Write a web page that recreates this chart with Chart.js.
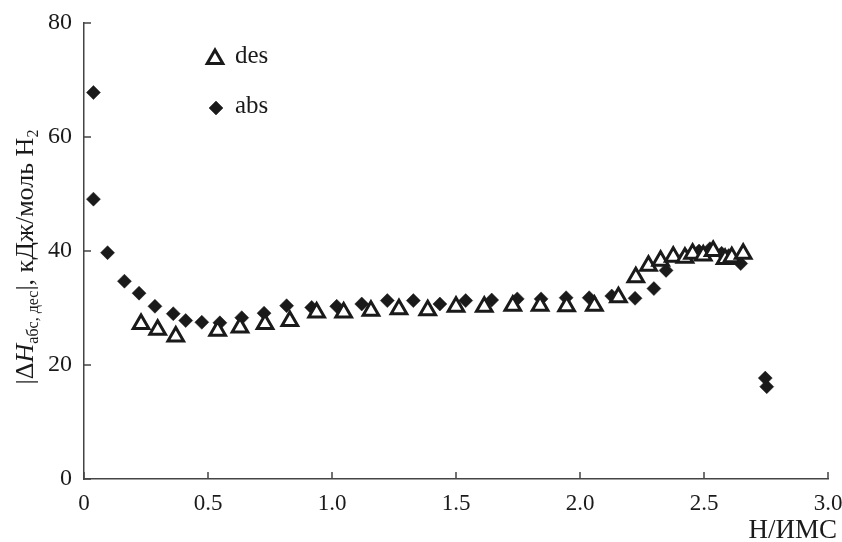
<!DOCTYPE html>
<html lang="ru">
<head>
<meta charset="UTF-8">
<title>chart</title>
<style>
    html, body { margin: 0; padding: 0; background: #fff; }
</style>
</head>
<body>
<canvas id="scatterChart" width="842" height="542"></canvas>

<script src="https://cdn.jsdelivr.net/npm/chart.js"></script>
<script>
// data
var desX = [0.23, 0.297, 0.37, 0.539, 0.629, 0.73, 0.83, 0.938, 1.047, 1.157, 1.27, 1.386, 1.5, 1.614, 1.729, 1.839, 1.946, 2.058, 2.155, 2.225, 2.276, 2.325, 2.376, 2.423, 2.454, 2.497, 2.537, 2.585, 2.612, 2.658];
var desY = [27.2, 26.2, 25.0, 26.0, 26.6, 27.2, 27.7, 29.2, 29.2, 29.5, 29.8, 29.6, 30.2, 30.2, 30.4, 30.4, 30.3, 30.4, 31.9, 35.4, 37.4, 38.3, 39.0, 38.8, 39.5, 39.2, 40.0, 38.6, 38.9, 39.5];

var absX = [0.038, 0.038, 0.095, 0.163, 0.222, 0.286, 0.36, 0.41, 0.475, 0.548, 0.636, 0.726, 0.817, 0.918, 1.019, 1.12, 1.223, 1.328, 1.435, 1.539, 1.644, 1.747, 1.843, 1.944, 2.037, 2.128, 2.222, 2.298, 2.347, 2.427, 2.48, 2.524, 2.571, 2.60, 2.648, 2.747, 2.753];
var absY = [67.8, 49.1, 39.7, 34.7, 32.6, 30.3, 29.0, 27.8, 27.5, 27.4, 28.3, 29.1, 30.4, 30.1, 30.3, 30.7, 31.3, 31.3, 30.7, 31.3, 31.4, 31.6, 31.6, 31.8, 31.8, 32.1, 31.7, 33.4, 36.6, 39.2, 40.0, 40.4, 39.6, 39.2, 37.8, 17.7, 16.2];

var seriesNames = ['des', 'abs'];
var xTicks = [0, 0.5, 1, 1.5, 2, 2.5, 3];
var yTicks = [0, 20, 40, 60, 80];
var xTitle = 'H/ИМС';
// y title pieces: main text and subscripts
var yTitleParts = [
    { text: '|Δ', sub: false },
    { text: 'H', sub: false, italic: true },
    { text: 'абс, дес', sub: true },
    { text: '|, кДж/моль H', sub: false },
    { text: '2', sub: true }
];

var SERIF = '"Liberation Serif", "DejaVu Serif", serif';
var INK = '#1a1a1a';

function toPoints(xs, ys) {
    return xs.map(function(x, i) { return { x: x, y: ys[i] }; });
}

var desStyle = { pointStyle: 'triangle', radius: 9, borderWidth: 3, rotation: 0 };
var absStyle = { pointStyle: 'rectRot', radius: 7, borderWidth: 0.5, rotation: 0 };

// inward ticks, legend, axis titles
var extrasPlugin = {
    id: 'extras',
    afterDraw: function(chart) {
        var ctx = chart.ctx;
        var xs = chart.scales.x, ys = chart.scales.y;
        var area = chart.chartArea;

        ctx.save();
        ctx.strokeStyle = '#444';
        ctx.lineWidth = 1.5;
        ctx.beginPath();
        xTicks.forEach(function(v) {
            var px = xs.getPixelForValue(v);
            ctx.moveTo(px, area.bottom);
            ctx.lineTo(px, area.bottom - 7);
        });
        yTicks.forEach(function(v) {
            var py = ys.getPixelForValue(v);
            ctx.moveTo(area.left, py);
            ctx.lineTo(area.left + 7, py);
        });
        ctx.stroke();
        ctx.restore();

        // legend
        ctx.save();
        ctx.strokeStyle = INK;
        ctx.fillStyle = '#fff';
        ctx.lineWidth = desStyle.borderWidth;
        Chart.helpers.drawPoint(ctx, desStyle, 215, 59);
        ctx.fillStyle = INK;
        ctx.lineWidth = absStyle.borderWidth;
        Chart.helpers.drawPoint(ctx, absStyle, 216, 108);
        ctx.font = '25px ' + SERIF;
        ctx.textBaseline = 'middle';
        ctx.textAlign = 'left';
        ctx.fillText(seriesNames[0], 235, 56);
        ctx.fillText(seriesNames[1], 235, 106);
        ctx.restore();

        // x axis title
        ctx.save();
        ctx.fillStyle = INK;
        ctx.font = '27px ' + SERIF;
        ctx.textAlign = 'right';
        ctx.textBaseline = 'middle';
        ctx.fillText(xTitle, 837, 531);
        ctx.restore();

        // y axis title
        ctx.save();
        ctx.translate(33, 257);
        ctx.rotate(-Math.PI / 2);
        ctx.fillStyle = INK;
        ctx.textBaseline = 'alphabetic';
        var fonts = yTitleParts.map(function(p) {
            if (p.sub) return '16px ' + SERIF;
            return (p.italic ? 'italic ' : '') + '26px ' + SERIF;
        });
        var total = 0;
        var widths = yTitleParts.map(function(p, i) {
            ctx.font = fonts[i];
            var w = ctx.measureText(p.text).width;
            total += w;
            return w;
        });
        var cx = -total / 2;
        yTitleParts.forEach(function(p, i) {
            ctx.font = fonts[i];
            ctx.fillText(p.text, cx, p.sub ? 5 : 0);
            cx += widths[i];
        });
        ctx.restore();
    }
};

var ctx = document.getElementById('scatterChart');
var scatterChart = new Chart(ctx.getContext('2d'), {
    type: 'scatter',
    data: {
        datasets: [
            {
                label: seriesNames[0],
                data: toPoints(desX, desY),
                pointStyle: 'triangle',
                pointRadius: 9,
                pointBorderWidth: 3,
                backgroundColor: '#fff',
                borderColor: INK
            },
            {
                label: seriesNames[1],
                data: toPoints(absX, absY),
                pointStyle: 'rectRot',
                pointRadius: 7,
                pointBorderWidth: 0.5,
                backgroundColor: INK,
                borderColor: INK
            }
        ]
    },
    options: {
        responsive: false,
        animation: false,
        layout: { padding: 0 },
        scales: {
            x: {
                type: 'linear',
                min: 0,
                max: 3,
                afterBuildTicks: function(scale) {
                    scale.ticks = xTicks.map(function(v) { return { value: v }; });
                },
                afterFit: function(scale) {
                    scale.height = 63;
                    scale.paddingLeft = 0;
                    scale.paddingRight = 14;
                },
                ticks: {
                    padding: 11,
                    color: INK,
                    font: { size: 23, family: SERIF },
                    callback: function(value) {
                        return value === 0 ? '0' : value.toFixed(1);
                    }
                },
                grid: { drawOnChartArea: false, drawTicks: false },
                border: { color: '#444', width: 1.5 }
            },
            y: {
                min: 0,
                max: 80,
                afterBuildTicks: function(scale) {
                    scale.ticks = yTicks.map(function(v) { return { value: v }; });
                },
                afterFit: function(scale) {
                    scale.width = 84;
                    scale.paddingTop = 23;
                    scale.paddingBottom = 0;
                },
                ticks: {
                    padding: 12,
                    color: INK,
                    font: { size: 24, family: SERIF }
                },
                grid: { drawOnChartArea: false, drawTicks: false },
                border: { color: '#444', width: 1.5 }
            }
        },
        plugins: {
            legend: { display: false },
            title: { display: false },
            tooltip: { enabled: false }
        }
    },
    plugins: [extrasPlugin]
});
</script>
</body>
</html>
